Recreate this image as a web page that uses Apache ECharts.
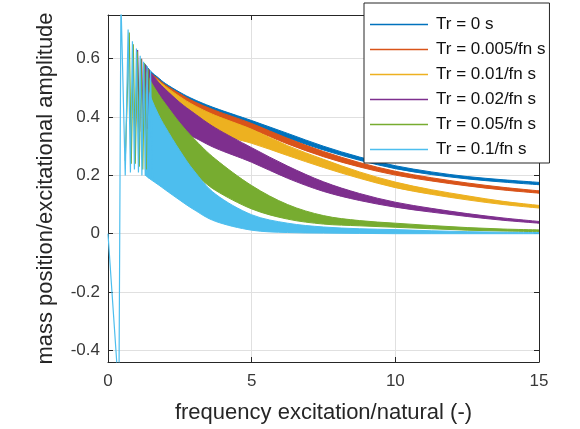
<!DOCTYPE html>
<html><head><meta charset="utf-8">
<script src="https://cdn.jsdelivr.net/npm/echarts@6/dist/echarts.min.js"></script>
<style>html,body{margin:0;padding:0;background:#fff}#c{width:580px;height:429px}</style>
</head><body><div id="c"></div>
<script>
const seriesNames = ['Tr = 0 s', 'Tr = 0.005/fn s', 'Tr = 0.01/fn s', 'Tr = 0.02/fn s', 'Tr = 0.05/fn s', 'Tr = 0.1/fn s'];
const seriesColors = ['#0072BD', '#D95319', '#EDB120', '#7E2F8E', '#77AC30', '#4DBEEE'];
const xTicks = [0, 5, 10, 15];
const yTicks = [-0.4, -0.2, 0, 0.2, 0.4, 0.6];

// envelope of the oscillating response (upper / lower) at these frequency ratios
const bandFreq = [1.3, 1.5, 1.75, 2, 2.5, 3, 3.75, 5, 6.25, 7.5, 8.75, 10, 11.25, 12.5, 13.75, 15];
const upperTr0    = [0.58, 0.555, 0.535, 0.515, 0.485, 0.46, 0.43, 0.388, 0.344, 0.30, 0.263, 0.233, 0.212, 0.196, 0.185, 0.176];
const lowerTr0    = [0.45, 0.45, 0.45, 0.45, 0.445, 0.43, 0.41, 0.372, 0.328, 0.287, 0.252, 0.223, 0.203, 0.188, 0.177, 0.168];
const upperTr005  = [0.575, 0.55, 0.53, 0.51, 0.48, 0.453, 0.422, 0.378, 0.327, 0.282, 0.244, 0.214, 0.192, 0.174, 0.159, 0.147];
const lowerTr005  = [0.44, 0.44, 0.44, 0.44, 0.43, 0.415, 0.395, 0.358, 0.308, 0.264, 0.229, 0.201, 0.181, 0.164, 0.15, 0.139];
const upperTr01   = [0.57, 0.545, 0.525, 0.505, 0.47, 0.44, 0.405, 0.358, 0.302, 0.255, 0.212, 0.177, 0.151, 0.13, 0.111, 0.097];
const lowerTr01   = [0.39, 0.39, 0.39, 0.39, 0.38, 0.365, 0.342, 0.31, 0.268, 0.227, 0.19, 0.158, 0.135, 0.116, 0.1, 0.088];
const upperTr02   = [0.575, 0.55, 0.52, 0.495, 0.45, 0.413, 0.362, 0.295, 0.232, 0.178, 0.138, 0.108, 0.087, 0.069, 0.054, 0.042];
const lowerTr02   = [0.37, 0.37, 0.37, 0.37, 0.35, 0.33, 0.293, 0.245, 0.19, 0.145, 0.114, 0.091, 0.074, 0.059, 0.046, 0.036];
const upperTr05   = [0.56, 0.52, 0.48, 0.445, 0.38, 0.325, 0.255, 0.165, 0.1, 0.062, 0.045, 0.036, 0.028, 0.021, 0.016, 0.013];
const lowerTr05   = [0.22, 0.23, 0.235, 0.235, 0.23, 0.205, 0.148, 0.085, 0.05, 0.033, 0.027, 0.022, 0.017, 0.012, 0.009, 0.007];
const upperTr1    = [0.52, 0.465, 0.41, 0.365, 0.285, 0.215, 0.135, 0.065, 0.036, 0.023, 0.017, 0.014, 0.01, 0.007, 0.005, 0.004];
const lowerTr1    = [0.2, 0.185, 0.168, 0.15, 0.115, 0.082, 0.042, 0.012, 0.004, 0.002, 0.001, 0, 0, 0, 0, 0];

// low-frequency start: individual spikes
const spikeFreqTr1 = [0, 0.38, 0.45, 0.6, 0.7, 0.78, 0.85, 0.92, 0.99, 1.06, 1.12, 1.18, 1.24, 1.3, 1.36, 1.42, 1.48, 1.55];
const spikeAmpTr1  = [0, -0.55, 0.8, 0.2, 0.7, 0.21, 0.66, 0.22, 0.635, 0.21, 0.61, 0.2, 0.59, 0.2, 0.575, 0.19, 0.56, 0.19];
const spikeFreqTr05 = [0.6, 0.74, 0.81, 0.88, 0.95, 1.02, 1.09, 1.15, 1.21, 1.27, 1.33, 1.4];
const spikeAmpTr05  = [0.25, 0.69, 0.24, 0.65, 0.24, 0.625, 0.23, 0.6, 0.22, 0.585, 0.22, 0.565];
const spikeFreqTr02 = [0.95, 1.03, 1.1, 1.17, 1.23, 1.3, 1.36, 1.42];
const spikeAmpTr02  = [0.35, 0.63, 0.35, 0.6, 0.36, 0.58, 0.36, 0.565];

const uppers = [upperTr0, upperTr005, upperTr01, upperTr02, upperTr05, upperTr1];
const lowers = [lowerTr0, lowerTr005, lowerTr01, lowerTr02, lowerTr05, lowerTr1];
const spikes = {3: [spikeFreqTr02, spikeAmpTr02], 4: [spikeFreqTr05, spikeAmpTr05], 5: [spikeFreqTr1, spikeAmpTr1]};

const FONT = '"Liberation Sans", Arial, sans-serif';

// smooth curve through points (Catmull-Rom as cubic Bezier)
function curveTo(pts) {
  let d = '';
  for (let i = 0; i < pts.length - 1; i++) {
    const p0 = pts[i - 1] || pts[i], p1 = pts[i], p2 = pts[i + 1], p3 = pts[i + 2] || pts[i + 1];
    const c1 = [p1[0] + (p2[0] - p0[0]) / 6, p1[1] + (p2[1] - p0[1]) / 6];
    const c2 = [p2[0] - (p3[0] - p1[0]) / 6, p2[1] - (p3[1] - p1[1]) / 6];
    d += ' C' + c1[0] + ' ' + c1[1] + ' ' + c2[0] + ' ' + c2[1] + ' ' + p2[0] + ' ' + p2[1];
  }
  return d;
}

function bandSeries(k) {
  const up = uppers[k], lo = lowers[k], color = seriesColors[k];
  return {
    type: 'custom', name: seriesNames[k], coordinateSystem: 'cartesian2d',
    data: bandFreq.map((f, i) => [f, lo[i], up[i]]),
    encode: { x: 0, y: [1, 2] },
    itemStyle: { color: color },
    clip: true, silent: true, animation: false,
    renderItem: function (params, api) {
      if (params.dataIndex !== 0) return null;
      const top = bandFreq.map((f, i) => api.coord([f, up[i]]));
      const bot = bandFreq.map((f, i) => api.coord([f, lo[i]])).reverse();
      const d = 'M' + top[0][0] + ' ' + top[0][1] + curveTo(top) +
        ' L' + bot[0][0] + ' ' + bot[0][1] + curveTo(bot) + ' Z';
      return { type: 'path', shape: { pathData: d }, style: { fill: color, stroke: color, lineWidth: 1 } };
    }
  };
}

const series = [];
for (let k = 0; k < 6; k++) {
  series.push(bandSeries(k));
  if (spikes[k]) {
    const [fx, fy] = spikes[k];
    series.push({
      type: 'line', name: seriesNames[k], data: fx.map((f, i) => [f, fy[i]]),
      showSymbol: false, symbol: 'none', clip: true, animation: false, silent: true,
      lineStyle: { color: seriesColors[k], width: 1.2 }, itemStyle: { color: seriesColors[k] }
    });
  }
}

const chart = echarts.init(document.getElementById('c'), null, { renderer: 'canvas' });
chart.setOption({
  backgroundColor: '#fff',
  animation: false,
  textStyle: { fontFamily: FONT },
  grid: { left: 108, right: 41, top: 15, bottom: 67, show: false },
  legend: {
    data: seriesNames, orient: 'vertical', left: 364, top: 3,
    icon: 'rect', itemWidth: 58, itemHeight: 1.5, itemGap: 8,
    padding: [13, 4, 5, 6],
    backgroundColor: '#fff', borderColor: '#262626', borderWidth: 1,
    textStyle: { fontSize: 17, color: '#111', fontFamily: FONT, padding: [0, 0, 0, 3] },
    selectedMode: false
  },
  xAxis: [{
    type: 'value', min: 0, max: 15, interval: 5, position: 'bottom',
    axisLine: { show: true, onZero: false, lineStyle: { color: '#262626', width: 1 } },
    axisTick: { show: true, inside: true, length: 5, lineStyle: { color: '#262626' } },
    axisLabel: { margin: 11, fontSize: 17, color: '#383838', fontFamily: FONT, customValues: xTicks },
    splitLine: { show: true, lineStyle: { color: '#e0e0e0', width: 1 } },
    name: 'frequency excitation/natural (-)', nameLocation: 'middle', nameGap: 40,
    nameTextStyle: { fontSize: 22, color: '#262626', fontFamily: FONT }
  }, {
    type: 'value', min: 0, max: 15, interval: 5, position: 'top',
    axisLine: { show: true, onZero: false, lineStyle: { color: '#262626', width: 1 } },
    axisTick: { show: true, inside: true, length: 5, lineStyle: { color: '#262626' } },
    axisLabel: { show: false }, splitLine: { show: false }
  }],
  yAxis: [{
    type: 'value', min: -0.44, max: 0.75, position: 'left',
    axisLine: { show: true, onZero: false, lineStyle: { color: '#262626', width: 1 } },
    axisTick: { show: true, inside: true, length: 5, lineStyle: { color: '#262626' }, customValues: yTicks },
    axisLabel: { margin: 8, fontSize: 17, color: '#383838', fontFamily: FONT, customValues: yTicks,
      formatter: v => String(v) },
    splitLine: { show: true, lineStyle: { color: '#e0e0e0', width: 1 } },
    name: 'mass position/excitational amplitude', nameLocation: 'middle', nameGap: 51,
    nameTextStyle: { fontSize: 22, color: '#262626', fontFamily: FONT }
  }, {
    type: 'value', min: -0.44, max: 0.75, position: 'right',
    axisLine: { show: true, onZero: false, lineStyle: { color: '#262626', width: 1 } },
    axisTick: { show: true, inside: true, length: 5, lineStyle: { color: '#262626' }, customValues: yTicks },
    axisLabel: { show: false, customValues: yTicks }, splitLine: { show: false }
  }],
  series: series
});
</script>
</body></html>
